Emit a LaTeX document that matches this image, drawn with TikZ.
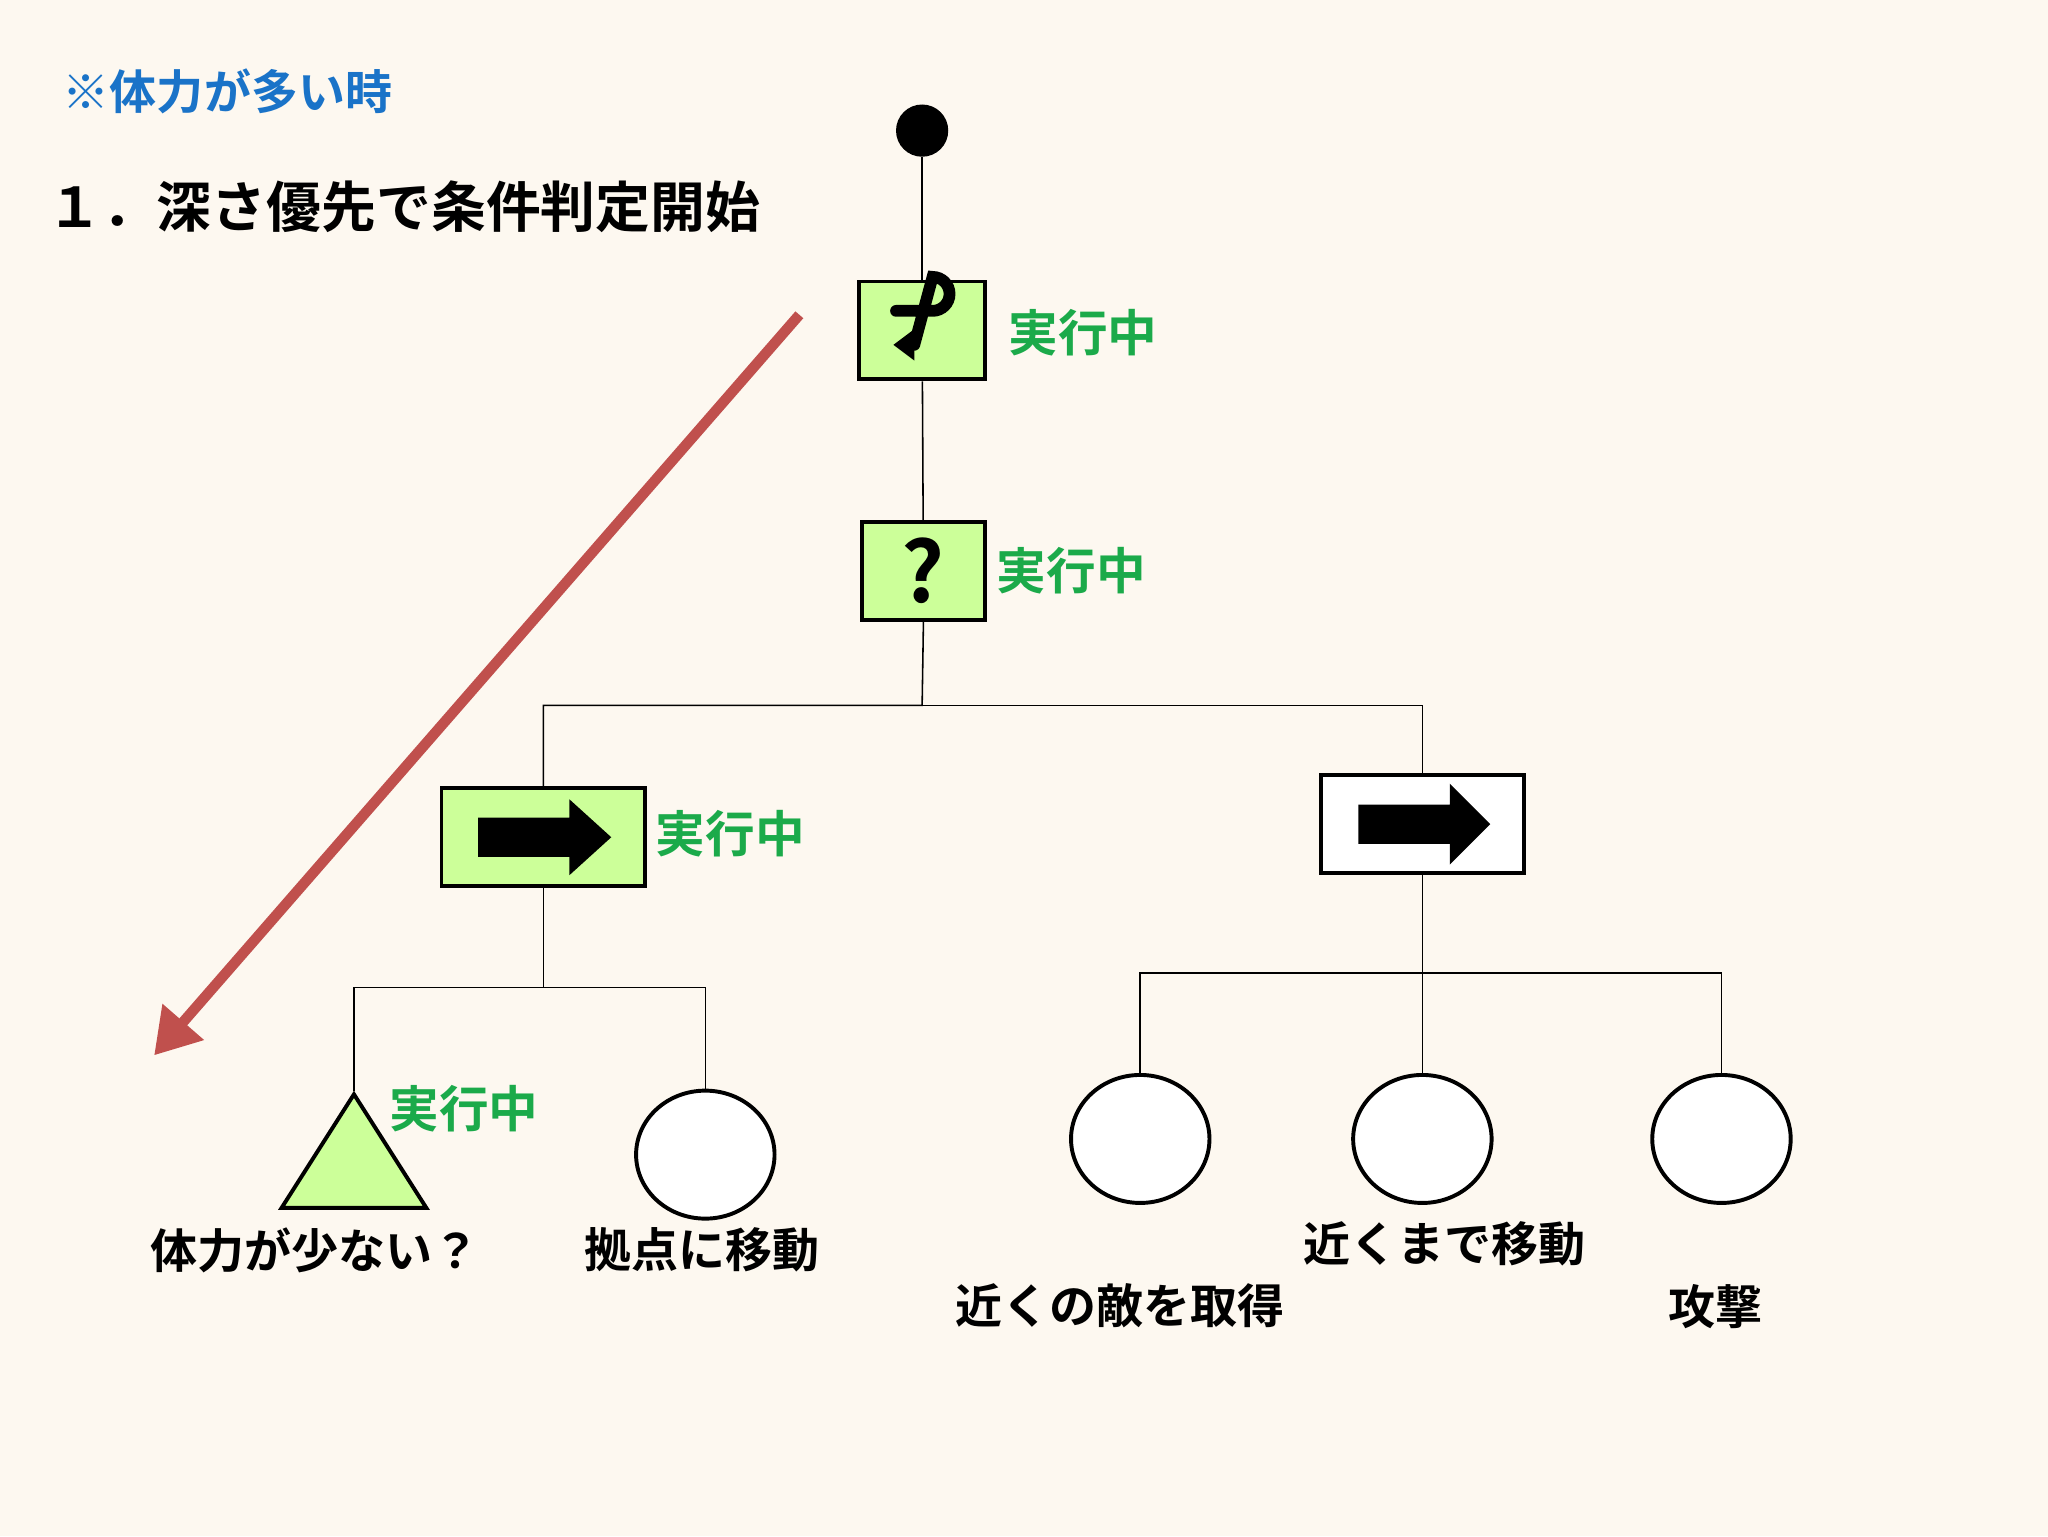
\documentclass[tikz,border=0pt]{standalone}
\usepackage{fontspec}
\newfontfamily\jp{Noto Sans CJK JP Bold}
\usetikzlibrary{arrows.meta}
\definecolor{bg}{HTML}{FDF8F0}
\definecolor{gfill}{HTML}{CCFF99}
\definecolor{gtext}{HTML}{1BAA4A}
\definecolor{btext}{HTML}{1A73C8}
\definecolor{redc}{HTML}{C0504D}
\tikzset{
 box/.style={draw=black,line width=3pt,minimum width=#1,minimum height=75pt,inner sep=0},
 leaf/.style={draw=black,line width=3pt,ellipse,minimum width=106pt,minimum height=98pt,fill=white,inner sep=0},
 run/.style={text=gtext,font=\jp\fontsize{38}{40}\selectfont,anchor=west,inner sep=0},
 lab/.style={font=\jp\fontsize{36}{38}\selectfont,inner sep=0},
 con/.style={line width=1.2pt}
}
\usetikzlibrary{shapes.geometric}
\begin{document}
\begin{tikzpicture}[x=1pt,y=-1pt]
\fill[bg] (0,0) rectangle (1568,1176);
\useasboundingbox (0,0) rectangle (1568,1176);
\node[anchor=west,text=btext,font=\jp\fontsize{36}{38}\selectfont,inner sep=0] (t1) at (48,70) {※体力が多い時};
\node[anchor=west,font=\jp\fontsize{42}{44}\selectfont,inner sep=0] (t2) at (36,158) {１．深さ優先で条件判定開始};
\node[circle,fill=black,minimum size=40pt,inner sep=0] (root) at (706,100) {};
\node[box=96pt,fill=gfill] (rep) at (706,253) {};
\draw[line width=9pt,line cap=round] (686,238) -- (714,238) arc[start angle=90,end angle=-90,radius=13] -- (700,264);
\fill (684,264) -- (700,252) -- (700,276) -- cycle;
\node[run] (r1) at (772,255) {実行中};
\node[box=94pt,fill=gfill,font=\jp\fontsize{64}{64}\selectfont] (sel) at (707,437) {?};
\node[run] (r2) at (763,437) {実行中};
\node[box=156pt,fill=gfill] (seqL) at (416,641) {};
\fill (366,626) rectangle (436,656) (436,612) -- (468,641) -- (436,670) -- cycle;
\node[run] (r3) at (502,638) {実行中};
\node[box=155pt,fill=white] (seqR) at (1089,631) {};
\fill (1040,616) rectangle (1110,646) (1110,600) -- (1141,631) -- (1110,662) -- cycle;
\node[draw=black,line width=3pt,fill=gfill,isosceles triangle,isosceles triangle apex angle=65,shape border rotate=90,minimum height=87pt,inner sep=0,anchor=apex] (cond) at (271,835) {};
\node[run] (r4) at (298,849) {実行中};
\node[leaf] (mv) at (540,884) {};
\node[leaf] (c1) at (873,872) {};
\node[leaf] (c2) at (1089,872) {};
\node[leaf] (c3) at (1318,872) {};
\node[lab,anchor=west] (l1) at (115,957) {体力が少ない？};
\node[lab,anchor=west] (l2) at (447,957) {拠点に移動};
\node[lab,anchor=west] (l3) at (731,1000) {近くの敵を取得};
\node[lab,anchor=west] (l4) at (998,952) {近くまで移動};
\node[lab,anchor=west] (l5) at (1277,1000) {攻撃};
\draw[con] (root) -- (rep);
\draw[con] (rep) -- (sel);
\draw[con] (sel.south) -- (706,540) -| (seqL.north);
\draw[con] (706,540) -| (seqR.north);
\draw[con] (seqL.south) -- (416,756) -| (cond.apex);
\draw[con] (416,756) -| (mv.north);
\draw[con] (seqR.south) -- (1089,745) -| (c1.north);
\draw[con] (1089,745) -- (c2.north);
\draw[con] (1089,745) -| (c3.north);
\coordinate (a0) at (612,241);
\coordinate (a1) at (118,808);
\draw[redc,line width=8pt,-{Triangle[length=34pt,width=40pt]}] (a0) -- (a1);
\end{tikzpicture}
\end{document}
